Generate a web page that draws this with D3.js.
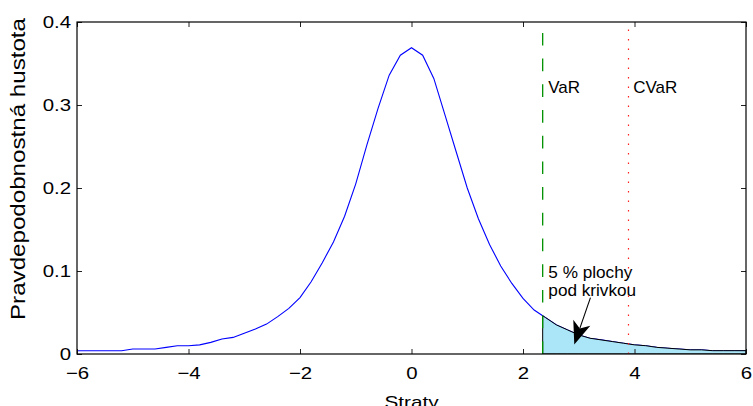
<!DOCTYPE html>
<html><head><meta charset="utf-8">
<script src="https://cdn.jsdelivr.net/npm/d3@7"></script>
<style>
body{margin:0;background:#fff}
text{font-family:"Liberation Sans",Arial,Helvetica,sans-serif;fill:#000}
</style>
</head><body>
<svg id="chart" width="753" height="406"></svg>
<script>
// ---- data ----
const lossX = [-6.0,-5.8,-5.6,-5.4,-5.2,-5.0,-4.8,-4.6,-4.4,-4.2,-4.0,-3.8,-3.6,-3.4,-3.2,-3.0,-2.8,-2.6,-2.4,-2.2,-2.0,-1.8,-1.6,-1.4,-1.2,-1.0,-0.8,-0.6,-0.4,-0.2,0.0,0.2,0.4,0.6,0.8,1.0,1.2,1.4,1.6,1.8,2.0,2.2,2.4,2.6,2.8,3.0,3.2,3.4,3.6,3.8,4.0,4.2,4.4,4.6,4.8,5.0,5.2,5.4,5.6,5.8,6.0];
const density = [0.004,0.004,0.004,0.004,0.004,0.006,0.006,0.006,0.008,0.010,0.010,0.011,0.014,0.018,0.020,0.025,0.030,0.036,0.045,0.055,0.068,0.087,0.110,0.135,0.166,0.205,0.252,0.296,0.336,0.360,0.369,0.360,0.332,0.288,0.244,0.200,0.163,0.132,0.106,0.085,0.067,0.053,0.044,0.035,0.029,0.023,0.019,0.017,0.015,0.013,0.011,0.010,0.008,0.007,0.006,0.005,0.005,0.004,0.004,0.004,0.004];
const xTicks = [-6,-4,-2,0,2,4,6];
const yTicks = [0,0.1,0.2,0.3,0.4];
const varValue = 2.353;
const cvarValue = 3.876;
const varDensity = 0.046;
const xLabel = "Straty";
const yLabel = "Pravdepodobnostná hustota";
const varLabel = "VaR";
const cvarLabel = "CVaR";
const noteLines = ["5 % plochy", "pod krivkou"];
const notePos = [2.455, 0.0912];
const arrowFrom = [3.21, 0.068];
const arrowTo = [2.92, 0.0115];

// ---- layout ----
const svg = d3.select("#chart");
const L = 77, R = 746, T = 22, B = 354;
const x = d3.scaleLinear().domain([-6, 6]).range([L, R]);
const y = d3.scaleLinear().domain([0, 0.4]).range([B, T]);
const fs = 17;
const stretch = 1.2;

function widen(sel, k){
  sel.each(function(){
    const w = this.getComputedTextLength();
    d3.select(this).attr("textLength", w*k).attr("lengthAdjust","spacingAndGlyphs");
  });
}

svg.append("defs").append("clipPath").attr("id","clip")
  .append("rect").attr("x",L).attr("y",T).attr("width",R-L).attr("height",B-T);

const plot = svg.append("g").attr("clip-path","url(#clip)");

// blue density curve
const pts = lossX.map((v,i)=>[v, density[i]]);
const line = d3.line().x(d=>x(d[0])).y(d=>y(d[1]));
plot.append("path").attr("d", line(pts)).attr("fill","none")
  .attr("stroke","#0000ff").attr("stroke-width",1.1);

// shaded tail
const tail = [[varValue, varDensity]].concat(pts.filter(d=>d[0] > varValue));
const area = d3.area().x(d=>x(d[0])).y0(y(0)).y1(d=>y(d[1]));
plot.append("path").attr("d", area(tail)).attr("fill","#abe6f8")
  .attr("stroke","#000").attr("stroke-width",1);

// VaR / CVaR lines
plot.append("line").attr("x1",x(varValue)).attr("x2",x(varValue))
  .attr("y1",y(0)).attr("y2",y(0.4)).attr("stroke","#009000")
  .attr("stroke-width",1.3).attr("stroke-dasharray","12.7,13");
const cx = Math.round(x(cvarValue)) + 0.5;
plot.append("line").attr("x1",cx).attr("x2",cx)
  .attr("y1",y(0)).attr("y2",y(0.4)).attr("stroke","#ff2020")
  .attr("stroke-width",1.2).attr("stroke-dasharray","1.5,8");

// axes
function styleAxis(g){
  g.select(".domain").remove();
  g.selectAll(".tick line").attr("stroke","#222").attr("stroke-width",1);
  g.selectAll("text").style("font-size",fs+"px").attr("fill","#000");
  widen(g.selectAll("text"), stretch);
}
const xAxis = svg.append("g").attr("transform",`translate(0,${B})`)
  .call(d3.axisBottom(x).tickValues(xTicks).tickSize(-5).tickPadding(13).tickFormat(d3.format("d")));
styleAxis(xAxis);
const xAxisTop = svg.append("g").attr("transform",`translate(0,${T})`)
  .call(d3.axisTop(x).tickValues(xTicks).tickSize(-5).tickFormat(""));
styleAxis(xAxisTop);
const yAxis = svg.append("g").attr("transform",`translate(${L},0)`)
  .call(d3.axisLeft(y).tickValues(yTicks).tickSize(-5).tickPadding(6).tickFormat(d=> d===0 ? "0" : d3.format(".1f")(d)));
styleAxis(yAxis);
const yAxisRight = svg.append("g").attr("transform",`translate(${R},0)`)
  .call(d3.axisRight(y).tickValues(yTicks).tickSize(-5).tickFormat(""));
styleAxis(yAxisRight);

// frame
svg.append("rect").attr("x",L).attr("y",T).attr("width",R-L).attr("height",B-T)
  .attr("fill","none").attr("stroke","#000").attr("stroke-width",1.2);

// labels
const xl = svg.append("text").attr("x",(L+R)/2).attr("y",408).attr("text-anchor","middle")
  .style("font-size",fs+"px").text(xLabel);
widen(xl, 1.22);
svg.append("text").attr("transform",`translate(25,169) rotate(-90)`)
  .attr("text-anchor","middle").style("font-size","21px")
  .attr("textLength",302).attr("lengthAdjust","spacingAndGlyphs").text(yLabel);

svg.append("text").attr("x",x(varValue+0.1)).attr("y",93).style("font-size",fs+"px").text(varLabel);
svg.append("text").attr("x",x(cvarValue+0.1)).attr("y",93).style("font-size",fs+"px").text(cvarLabel);

noteLines.forEach((t,i)=>{
  const el = svg.append("text").attr("x",x(notePos[0])).attr("y",y(notePos[1])+i*18)
    .style("font-size","16.5px").text(t);
  widen(el, 1.04);
});

// arrow
const ax0 = x(arrowFrom[0]), ay0 = y(arrowFrom[1]);
const ax1 = x(arrowTo[0]), ay1 = y(arrowTo[1]);
const ang = Math.atan2(ay1-ay0, ax1-ax0);
const hl = 23, hw = 9, notch = 6;
const ux = Math.cos(ang), uy = Math.sin(ang);
const bx = ax1 - ux*hl, by = ay1 - uy*hl;
const nx = ax1 - ux*(hl-notch), ny = ay1 - uy*(hl-notch);
svg.append("line").attr("x1",ax0).attr("y1",ay0).attr("x2",nx).attr("y2",ny)
  .attr("stroke","#000").attr("stroke-width",1.1);
svg.append("path").attr("d",
  `M${ax1},${ay1} L${bx - uy*hw},${by + ux*hw} L${nx},${ny} L${bx + uy*hw},${by - ux*hw} Z`)
  .attr("fill","#000");
</script>
</body></html>
